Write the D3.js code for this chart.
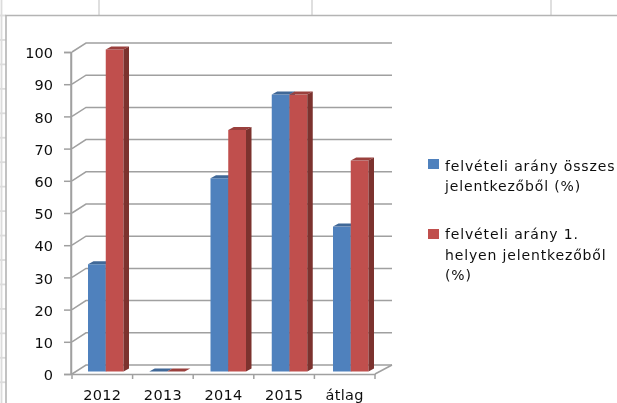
<!DOCTYPE html>
<html>
<head>
<meta charset="utf-8">
<script src="https://d3js.org/d3.v7.min.js"></script>
<style>
  html, body { margin: 0; padding: 0; background: #fff; }
  svg { display: block; }
  text { font-family: "DejaVu Sans", sans-serif; fill: #111; }
</style>
</head>
<body>
<svg id="chart" width="617" height="403"></svg>
<script>
var categories = ["2012", "2013", "2014", "2015", "átlag"];
var overall = [33.3, 0, 60, 86, 45];
var firstPlace = [100, 0, 75, 86, 65.5];
var yTicks = [0, 10, 20, 30, 40, 50, 60, 70, 80, 90, 100];
var legendLines = [["felvételi arány összes", "jelentkezőből (%)"], ["felvételi arány 1.", "helyen jelentkezőből", "(%)"]];

var blue = "#4f81bd", blueTop = "#3f6797", blueSide = "#375a84";
var red = "#c0504d", redTop = "#9a403e", redSide = "#7b302e";
var depthX = 14, depthY = 9;   // floor depth of the 3d box
var barDx = 5.5, barDy = 3;    // depth of each bar

var svg = d3.select("#chart");
svg.append("defs").append("filter").attr("id", "soft")
  .append("feGaussianBlur").attr("stdDeviation", 0.5);

// spreadsheet grid behind the chart
var sheet = svg.append("g").attr("stroke", "#dcdcdc").attr("stroke-width", 1.8);
[99, 312, 551].forEach(function(x) {
  sheet.append("line").attr("x1", x).attr("x2", x).attr("y1", 0).attr("y2", 15);
});
sheet.append("line").attr("x1", 1.5).attr("x2", 1.5).attr("y1", 0).attr("y2", 403);
d3.range(15.5, 403, 24.45).forEach(function(r) {
  sheet.append("line").attr("x1", 0).attr("x2", 6).attr("y1", r).attr("y2", r);
});
svg.append("path").attr("d", "M6,403V15.5H617").attr("fill", "none").attr("stroke", "#b4b4b4").attr("stroke-width", 1.6);

var g = svg.append("g").attr("filter", "url(#soft)");

var y = d3.scaleLinear().domain([0, 100]).range([374, 52]);
var x = d3.scaleBand().domain(categories).range([72, 375]);
var xBar = d3.scaleBand().domain(categories).range([88, 394.25]);
var x1 = d3.scaleBand().domain([0, 1]).range([0, 35.5]);

// walls and gridlines
var grid = g.append("g").attr("fill", "none").attr("stroke", "#a0a0a0").attr("stroke-width", 1.5);
grid.selectAll(".h").data(yTicks).enter().append("path")
  .attr("d", function(d) {
    return "M72," + y(d) + "L" + (72 + depthX) + "," + (y(d) - depthY) + "H" + (375 + depthX + 3);
  });
grid.append("path").attr("d", "M375," + y(0) + "L" + (375 + depthX + 3) + "," + (y(0) - depthY));
grid.append("line").attr("x1", 71).attr("x2", 71).attr("y1", y(100)).attr("y2", y(0));

// axes
var yAxis = g.append("g").attr("transform", "translate(71,0)")
  .call(d3.axisLeft(y).tickValues(yTicks).tickSize(7).tickPadding(11));
var xAxis = g.append("g").attr("transform", "translate(0," + y(0) + ")")
  .call(d3.axisBottom(x).tickSize(0).tickPadding(16));
g.append("g").selectAll("line").data(d3.range(6)).enter().append("line")
  .attr("x1", function(i) { return 72 + x.step() * i; })
  .attr("x2", function(i) { return 72 + x.step() * i; })
  .attr("y1", y(0)).attr("y2", y(0) + 5)
  .attr("stroke", "#a0a0a0").attr("stroke-width", 1.5);
[yAxis, xAxis].forEach(function(a) {
  a.select(".domain").attr("stroke", "#a0a0a0").attr("stroke-width", 1.5);
  a.selectAll(".tick line").attr("stroke", "#a0a0a0").attr("stroke-width", 1.5);
  a.selectAll("text").attr("font-size", 14.5).attr("fill", "#111").attr("font-family", "DejaVu Sans");
});
yAxis.selectAll("text").attr("transform", "translate(0,1)");
xAxis.selectAll("text").attr("letter-spacing", 0.3);

// bars
function drawSeries(values, idx, front, top, side) {
  var s = g.append("g").selectAll("g").data(values).enter().append("g")
    .attr("transform", function(d, i) { return "translate(" + (xBar(categories[i]) + x1(idx)) + ",-2.5)"; });
  var w = x1.bandwidth();
  s.append("rect").attr("x", 0).attr("width", w)
    .attr("y", function(d) { return y(d); })
    .attr("height", function(d) { return y(0) - y(d); })
    .attr("fill", front);
  s.append("path").attr("fill", top)
    .attr("d", function(d) {
      return "M0," + y(d) + "l" + barDx + "," + (-barDy) + "h" + w + "l" + (-barDx) + "," + barDy + "z";
    });
  s.append("path").attr("fill", side)
    .attr("d", function(d) {
      return "M" + w + "," + y(d) + "l" + barDx + "," + (-barDy) + "V" + (y(0) - barDy) + "l" + (-barDx) + "," + barDy + "z";
    });
}
drawSeries(overall, 0, blue, blueTop, blueSide);
drawSeries(firstPlace, 1, red, redTop, redSide);

// legend
var legendKey = [159, 229];
var legendText = [170.5, 239];
var legend = g.append("g");
legendLines.forEach(function(lines, i) {
  legend.append("rect").attr("x", 428).attr("y", legendKey[i]).attr("width", 11).attr("height", 10)
    .attr("fill", i == 0 ? blue : red);
  lines.forEach(function(t, k) {
    legend.append("text").attr("x", 445).attr("y", legendText[i] + k * 20.7)
      .attr("font-size", 14).attr("letter-spacing", 0.85).text(t);
  });
});
</script>
</body>
</html>
